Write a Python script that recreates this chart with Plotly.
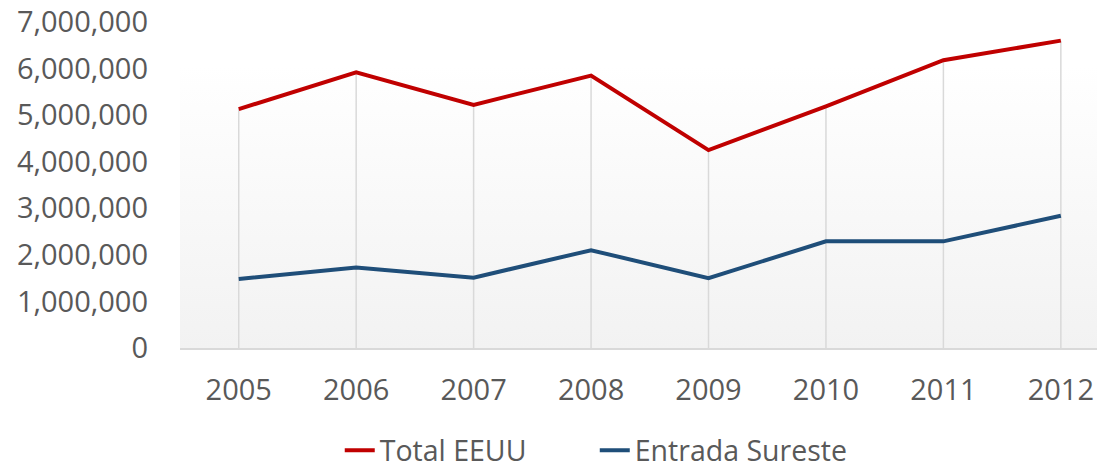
import plotly.graph_objects as go
import urllib.parse

years = ["2005", "2006", "2007", "2008", "2009", "2010", "2011", "2012"]
total_eeuu = [5130000, 5920000, 5220000, 5850000, 4250000, 5190000, 6180000, 6600000]
entrada_sureste = [1480000, 1730000, 1510000, 2100000, 1500000, 2290000, 2290000, 2840000]
y_ticks = [0, 1000000, 2000000, 3000000, 4000000, 5000000, 6000000, 7000000]

RED = "#C00000"
BLUE = "#1F4E79"
GRID = "#D9D9D9"
TEXT = "#595959"
FONT = "Open Sans"

# Drop lines from the axis to the highest series value at each category
drop_x, drop_y = [], []
for yr, a, b in zip(years, total_eeuu, entrada_sureste):
    drop_x += [yr, yr, None]
    drop_y += [0, max(a, b), None]

fig = go.Figure()
fig.add_trace(go.Scatter(x=drop_x, y=drop_y, mode="lines",
                         line=dict(color=GRID, width=1.5),
                         showlegend=False, hoverinfo="skip"))
fig.add_trace(go.Scatter(x=years, y=total_eeuu, mode="lines", name="Total EEUU",
                         line=dict(color=RED, width=4), legend="legend"))
fig.add_trace(go.Scatter(x=years, y=entrada_sureste, mode="lines", name="Entrada Sureste",
                         line=dict(color=BLUE, width=4), legend="legend2"))

svg = ('<svg xmlns="http://www.w3.org/2000/svg" width="100" height="100" preserveAspectRatio="none">'
       '<defs><linearGradient id="g" x1="0" y1="0" x2="0" y2="1">'
       '<stop offset="0" stop-color="#ffffff"/><stop offset="1" stop-color="#f2f2f2"/>'
       '</linearGradient></defs><rect width="100" height="100" fill="url(#g)"/></svg>')
src = "data:image/svg+xml;charset=utf-8," + urllib.parse.quote(svg)

legend_style = dict(orientation="h", xanchor="left", y=-0.315, yanchor="middle",
                    font=dict(size=28.5, color=TEXT), bgcolor="rgba(0,0,0,0)")

fig.update_layout(
    width=1097, height=458,
    margin=dict(l=172, r=0, t=14, b=118, autoexpand=False),
    paper_bgcolor="white", plot_bgcolor="rgba(0,0,0,0)",
    font=dict(family=FONT, size=29, color=TEXT),
    images=[dict(source=src, xref="paper", yref="paper", x=0, y=0.868,
                 sizex=1, sizey=0.868, xanchor="left", yanchor="top",
                 sizing="stretch", layer="below")],
    xaxis=dict(type="category", range=[-0.5, 7.376], showgrid=False,
               showline=True, linecolor=GRID, linewidth=1.5, automargin=False,
               ticks="", ticklabelstandoff=15, zeroline=False,
               ticklabeloverflow="allow"),
    yaxis=dict(range=[0, 7000000], tickvals=y_ticks, tickformat=",d",
               showgrid=False, zeroline=False, showline=False, automargin=False,
               ticks="", ticklabelstandoff=31, ticklabeloverflow="allow"),
    legend=dict(x=0.1727, **legend_style),
    legend2=dict(x=0.4484, **legend_style),
    hovermode=False,
)

fig.write_html("out.html")
